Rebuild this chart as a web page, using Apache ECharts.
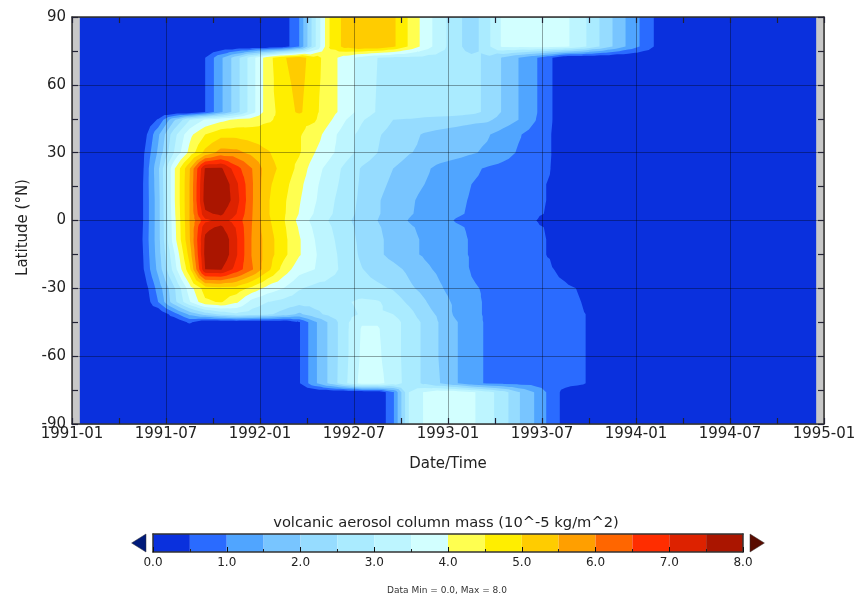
<!DOCTYPE html>
<html><head><meta charset="utf-8">
<style>html,body{margin:0;padding:0;background:#fff}#c{width:867px;height:598px}</style>
<script src="https://cdn.jsdelivr.net/npm/echarts@6/dist/echarts.min.js"></script>
</head><body><div id="c"></div>
<script>
// Months since 1991-01 (mid-month samples), index 0..47
const monthCount = 48;
const xTickLabels = ['1991-01','1991-07','1992-01','1992-07','1993-01','1993-07','1994-01','1994-07','1995-01'];
const latitudes = [90,77,72,48,44.6,38,30,23,16,9,3,0,-3,-8.4,-15,-21.6,-30,-36,-41.5,-45,-48,-60,-72,-76,-90];
const lat90  = [0,0,0,0,0,0,0,0,0,0,0,0,0,.2,1,2.9,4.6,5.2,5.45,5.45,5.1,4.45,3.8,3.2,2.7,2.2,2.85,3.6,3.65,3.7,3.7,3.6,3.2,2.6,2,1.4,.85,.3,0,0,0,0,0,0,0,0,0,0];
const lat77  = [0,0,0,0,0,0,0,0,0,0,0,0,0,.2,1,2.9,4.6,5.2,5.45,5.45,5.1,4.45,3.8,3.2,2.7,2.2,2.85,3.6,3.65,3.7,3.7,3.6,3.2,2.6,2,1.4,.85,.3,0,0,0,0,0,0,0,0,0,0];
const lat72  = [0,0,0,0,0,0,0,0,.5,1.4,2.3,3.3,4.3,4.95,5.25,4.7,4.2,3.75,3.3,3,2.9,2.9,2.85,2.8,2.75,2.65,2.4,1.95,1.5,1.1,.6,0,0,0,0,0,0,0,0,0,0,0,0,0,0,0,0,0];
const lat48  = [0,0,0,0,0,0,0,0,.5,1.4,2.3,3.3,4.3,4.7,5.1,4.6,4.2,3.75,3.3,2.95,2.9,2.9,2.85,2.8,2.75,2.65,2.4,1.95,1.5,1.1,.6,0,0,0,0,0,0,0,0,0,0,0,0,0,0,0,0,0];
const lat45  = [0,0,0,0,0,.55,1.9,2.97,3.55,3.85,4.1,4.25,4.45,4.6,4.6,4.55,4.05,3.5,3.05,2.75,2.5,2.45,2.35,2.3,2.25,2.15,2.1,1.8,1.5,1.05,.6,0,0,0,0,0,0,0,0,0,0,0,0,0,0,0,0,0];
const lat38  = [0,0,0,0,.15,1.4,2.8,3.85,4.5,4.85,4.85,4.75,4.7,4.65,4.55,4.25,3.7,3.2,2.85,2.55,2.35,2.15,1.95,1.85,1.75,1.65,1.55,1.3,1.05,.8,.55,0,0,0,0,0,0,0,0,0,0,0,0,0,0,0,0,0];
const lat30  = [0,0,0,0,.35,1.6,3,4.15,5.15,5.7,5.65,5.35,5.05,4.75,4.55,4,3.6,3.2,2.8,2.5,2.25,2.03,1.9,1.8,1.7,1.55,1.42,1.2,.95,.78,.55,0,0,0,0,0,0,0,0,0,0,0,0,0,0,0,0,0];
const lat23  = [0,0,0,0,.4,1.9,3.9,5.45,7.55,7.6,6.7,6,5.2,4.85,4.35,3.7,3.3,2.85,2.45,2.25,2,1.8,1.6,1.35,1.2,1.1,.95,.85,.75,.65,.52,.1,0,0,0,0,0,0,0,0,0,0,0,0,0,0,0,0];
const lat16  = [0,0,0,0,.45,1.85,3.9,5.5,7.7,8,7.1,6.05,5.1,4.7,4.15,3.6,3.2,2.8,2.42,2.15,1.9,1.65,1.5,1.3,1.12,1,.9,.8,.7,.6,.47,0,0,0,0,0,0,0,0,0,0,0,0,0,0,0,0,0];
const lat9   = [0,0,0,0,.45,1.8,3.9,5.5,7.75,8,7.2,6.05,5.05,4.6,4.05,3.55,3.1,2.73,2.39,2.05,1.8,1.57,1.4,1.25,1.08,.97,.85,.75,.65,.6,.47,0,0,0,0,0,0,0,0,0,0,0,0,0,0,0,0,0];
const lat3   = [0,0,0,0,.45,1.8,3.85,5.5,7.4,7.6,7,6.02,5.05,4.58,3.98,3.45,3.05,2.68,2.36,2.05,1.78,1.55,1.38,1.22,1.06,.95,.84,.73,.64,.58,.45,0,0,0,0,0,0,0,0,0,0,0,0,0,0,0,0,0];
const lat0   = [0,0,0,0,.45,1.8,3.8,5.5,6.85,7.2,6.8,6,5.1,4.55,3.85,3.3,2.95,2.6,2.3,2,1.72,1.48,1.3,1.17,.97,.88,.78,.68,.6,.53,.3,0,0,0,0,0,0,0,0,0,0,0,0,0,0,0,0,0];
const latS3  = [0,0,0,0,.47,1.8,3.78,5.48,7.35,7.6,6.95,5.98,5.15,4.6,3.95,3.4,3.03,2.66,2.34,2.06,1.8,1.56,1.4,1.25,1.06,.95,.85,.73,.64,.58,.45,0,0,0,0,0,0,0,0,0,0,0,0,0,0,0,0,0];
const latS8  = [0,0,0,0,.5,1.8,3.75,5.45,7.6,8,7.05,5.95,5.25,4.65,4.05,3.5,3.1,2.72,2.37,2.1,1.85,1.6,1.45,1.3,1.1,.97,.87,.75,.65,.6,.47,0,0,0,0,0,0,0,0,0,0,0,0,0,0,0,0,0];
const latS15 = [0,0,0,0,.45,1.75,3.4,5.2,7.65,8,7.05,5.95,5.25,4.65,4.05,3.55,3.15,2.8,2.4,2.1,1.85,1.6,1.45,1.3,1.1,.97,.87,.75,.65,.6,.47,0,0,0,0,0,0,0,0,0,0,0,0,0,0,0,0,0];
const latS22 = [0,0,0,0,.4,1.65,3.2,4.85,7.5,7.55,6.8,6.05,5.15,4.3,3.7,3.5,3.15,2.85,2.52,2.3,2.15,1.9,1.6,1.4,1.2,.97,.85,.75,.68,.6,.57,.3,0,0,0,0,0,0,0,0,0,0,0,0,0,0,0,0];
const latS30 = [0,0,0,0,.1,1.2,2.4,3.75,4.75,4.85,4.8,4.35,3.8,3.5,3.05,2.85,2.8,2.75,2.7,2.6,2.45,2.1,1.85,1.55,1.3,1.05,.95,.85,.8,.75,.7,.6,.45,0,0,0,0,0,0,0,0,0,0,0,0,0,0,0];
const latS36 = [0,0,0,0,0,1,2.3,3.45,4.4,4.55,4.1,3.3,3,2.85,2.7,2.7,2.75,2.95,3.1,3.05,2.8,2.4,2.05,1.7,1.4,1.1,.95,.9,.85,.8,.75,.65,.5,0,0,0,0,0,0,0,0,0,0,0,0,0,0,0];
const latS42 = [0,0,0,0,0,0,.75,1.6,2.2,2.6,2.9,2.75,2.6,2.3,1.9,2.35,2.65,2.85,3.05,3.05,3,2.7,2.2,1.9,1.4,1.1,.95,.9,.85,.8,.75,.7,.6,.25,0,0,0,0,0,0,0,0,0,0,0,0,0,0];
const latS45 = [0,0,0,0,0,0,0,.6,0,0,0,0,0,0,.45,1.4,2.15,2.9,3.45,3.45,3.2,2.8,2.4,1.95,1.55,1.15,.95,.9,.85,.8,.75,.7,.6,.25,0,0,0,0,0,0,0,0,0,0,0,0,0,0];
const latS48 = [0,0,0,0,0,0,0,0,0,0,0,0,0,0,.45,1.4,2.15,2.9,3.55,3.55,3.2,2.8,2.4,1.95,1.55,1.15,.95,.9,.85,.8,.75,.7,.6,.25,0,0,0,0,0,0,0,0,0,0,0,0,0,0];
const latS60 = [0,0,0,0,0,0,0,0,0,0,0,0,0,0,.45,1.4,2.15,2.9,3.6,3.6,3.2,2.8,2.4,1.95,1.55,1.15,.95,.9,.85,.8,.75,.7,.6,.25,0,0,0,0,0,0,0,0,0,0,0,0,0,0];
const latS72 = [0,0,0,0,0,0,0,0,0,0,0,0,0,0,.45,1.4,2.15,2.95,3.7,3.7,3.25,2.8,2.4,2,1.55,1.15,.95,.9,.85,.8,.75,.7,.6,.25,0,0,0,0,0,0,0,0,0,0,0,0,0,0];
const latS76 = [0,0,0,0,0,0,0,0,0,0,0,0,0,0,0,0,0,0,0,.05,.9,3,3.55,3.85,3.85,3.6,3.2,2.75,2.05,1.5,.85,.3,0,0,0,0,0,0,0,0,0,0,0,0,0,0,0,0];
const latS90 = [0,0,0,0,0,0,0,0,0,0,0,0,0,0,0,0,0,0,0,.05,.9,3,3.55,3.85,3.85,3.6,3.2,2.75,2.05,1.5,.85,.3,0,0,0,0,0,0,0,0,0,0,0,0,0,0,0,0];
const rows = [lat90,lat77,lat72,lat48,lat45,lat38,lat30,lat23,lat16,lat9,lat3,lat0,latS3,latS8,latS15,latS22,latS30,latS36,latS42,latS45,latS48,latS60,latS72,latS76,latS90];

const levels = [0,.5,1,1.5,2,2.5,3,3.5,4,4.5,5,5.5,6,6.5,7,7.5];
const bandColors = ['#0a30dd','#2a6bff','#50a5ff','#78c5ff','#96dcff','#aaebff','#bdf5ff','#d2ffff','#ffff50','#ffee00','#ffcc00','#ff9f00','#ff6600','#ff2d00','#dd2200','#aa1500'];
const barTicks = [0,1,2,3,4,5,6,7,8];
const FONT = '"DejaVu Sans"';

// clip a triangle [x,y,v] to v >= L
function clipTri(tri, L){
  const out=[];
  for(let a=0;a<3;a++){
    const p=tri[a], q=tri[(a+1)%3];
    const pin=p[2]>=L, qin=q[2]>=L;
    if(pin) out.push([p[0],p[1]]);
    if(pin!==qin){
      const t=(L-p[2])/(q[2]-p[2]);
      out.push([p[0]+t*(q[0]-p[0]),p[1]+t*(q[1]-p[1])]);
    }
  }
  return out;
}
function renderLevel(params, api){
  const k=api.value(0), L=levels[k], color=bandColors[k];
  let d='', x0b=Infinity,y0b=Infinity,x1b=-Infinity,y1b=-Infinity;
  const push=pts=>{
    if(pts.length<3) return;
    pts.forEach((p,n)=>{
      const c=api.coord(p);
      x0b=Math.min(x0b,c[0]);x1b=Math.max(x1b,c[0]);y0b=Math.min(y0b,c[1]);y1b=Math.max(y1b,c[1]);
      d+=(n?'L':'M')+c[0].toFixed(2)+' '+c[1].toFixed(2)+' ';
    });
    d+='Z ';
  };
  if(k===0){
    push([[.5,90],[monthCount-.5,90],[monthCount-.5,-90],[.5,-90]]);
  } else {
    for(let r=0;r<rows.length-1;r++){
      for(let i=0;i<monthCount-1;i++){
        const x0=i+.5,x1=i+1.5,y0=latitudes[r],y1=latitudes[r+1];
        const a=[x0,y0,rows[r][i]||0],b=[x1,y0,rows[r][i+1]||0],c=[x1,y1,rows[r+1][i+1]||0],e=[x0,y1,rows[r+1][i]||0];
        const m=[(x0+x1)/2,(y0+y1)/2,(a[2]+b[2]+c[2]+e[2])/4];
        [[a,b,m],[b,c,m],[c,e,m],[e,a,m]].forEach(t=>{
          if(Math.max(t[0][2],t[1][2],t[2][2])<L) return;
          push(clipTri(t,L));
        });
      }
    }
  }
  if(!d) return null;
  return {type:'path',shape:{pathData:d,x:x0b,y:y0b,width:x1b-x0b,height:y1b-y0b,layout:'cover'},style:{fill:color}};
}
function renderBar(params, api){
  const k=api.value(0);
  const tl=api.coord([k*.5,1]), br=api.coord([k*.5+.5,0]);
  return {type:'rect',shape:{x:tl[0],y:tl[1],width:br[0]-tl[0],height:br[1]-tl[1]},style:{fill:bandColors[k]}};
}
function renderArrow(params, api){
  const tip=api.value(0), base=api.value(1), color=api.value(2)===0?'#001a7a':'#5a0c00';
  const pts=[api.coord([tip,.5]),api.coord([base,1]),api.coord([base,0])];
  return {type:'polygon',shape:{points:pts},style:{fill:color,stroke:'#333',lineWidth:.5}};
}
const tickLine={show:true,inside:true,length:6,lineStyle:{color:'#223',width:1.2}};
const minor={show:true,splitNumber:2,length:6,lineStyle:{color:'#223',width:1.2}};
const frame={show:true,onZero:false,lineStyle:{color:'#333',width:1.5}};
const labelStyle={fontFamily:FONT,fontSize:15,color:'#222'};
const chart=echarts.init(document.getElementById('c'),null,{renderer:'canvas'});
chart.setOption({
  animation:false,
  backgroundColor:'#fff',
  title:[
    {text:'volcanic aerosol column mass (10^-5 kg/m^2)',left:441,top:511,textAlign:'center',textStyle:{fontFamily:FONT,fontSize:14.7,fontWeight:'normal',color:'#222'}},
    {text:'Data Min = 0.0, Max = 8.0',left:442,top:581,textAlign:'center',textStyle:{fontFamily:FONT,fontSize:9,fontWeight:'normal',color:'#333'}}
  ],
  grid:[
    {left:72,top:17,width:752,height:407,show:true,backgroundColor:'#c8c8c8',borderWidth:0},
    {left:153,top:534,width:590,height:18,show:false}
  ],
  xAxis:[
    {gridIndex:0,type:'value',min:0,max:48,interval:6,position:'bottom',z:5,
     axisLine:frame,axisTick:tickLine,minorTick:minor,
     splitLine:{show:true,lineStyle:{color:'rgba(0,0,0,.35)',width:1}},
     axisLabel:Object.assign({margin:3,formatter:v=>xTickLabels[v/6]},labelStyle),
     name:'Date/Time',nameLocation:'middle',nameGap:33,nameTextStyle:{fontFamily:FONT,fontSize:15,color:'#222'}},
    {gridIndex:0,type:'value',min:0,max:48,interval:6,position:'top',z:5,
     axisLine:frame,axisTick:tickLine,minorTick:minor,splitLine:{show:false},axisLabel:{show:false}},
    {gridIndex:1,type:'value',min:0,max:8,interval:1,position:'bottom',z:5,
     axisLine:frame,axisTick:{show:true,inside:true,length:5,lineStyle:{color:'#111',width:1}},
     minorTick:{show:true,splitNumber:2,length:3,lineStyle:{color:'#222',width:1}},
     splitLine:{show:false},
     axisLabel:{margin:5,fontFamily:FONT,fontSize:12,color:'#222',formatter:v=>barTicks[v].toFixed(1)}},
    {gridIndex:1,type:'value',min:0,max:8,position:'top',z:5,axisLine:frame,axisTick:{show:false},splitLine:{show:false},axisLabel:{show:false}}
  ],
  yAxis:[
    {gridIndex:0,type:'value',min:-90,max:90,interval:30,position:'left',z:5,
     axisLine:frame,axisTick:tickLine,minorTick:minor,
     splitLine:{show:true,lineStyle:{color:'rgba(0,0,0,.35)',width:1}},
     axisLabel:Object.assign({margin:6},labelStyle),
     name:'Latitude (°N)',nameLocation:'middle',nameGap:37,nameTextStyle:{fontFamily:FONT,fontSize:15,color:'#222',padding:[0,14,0,0]}},
    {gridIndex:0,type:'value',min:-90,max:90,interval:30,position:'right',z:5,
     axisLine:frame,axisTick:tickLine,minorTick:minor,splitLine:{show:false},axisLabel:{show:false}},
    {gridIndex:1,type:'value',min:0,max:1,position:'left',z:5,axisLine:frame,axisTick:{show:false},splitLine:{show:false},axisLabel:{show:false}},
    {gridIndex:1,type:'value',min:0,max:1,position:'right',z:5,axisLine:frame,axisTick:{show:false},splitLine:{show:false},axisLabel:{show:false}}
  ],
  series:[
    {type:'custom',xAxisIndex:0,yAxisIndex:0,z:1,clip:true,silent:true,renderItem:renderLevel,
     data:levels.map((l,k)=>[k,0]),encode:{x:0,y:1},progressive:0},
    {type:'custom',xAxisIndex:2,yAxisIndex:2,z:1,silent:true,renderItem:renderBar,
     data:levels.map((l,k)=>[k,0]),encode:{x:0,y:1}},
    {type:'custom',xAxisIndex:2,yAxisIndex:2,z:1,silent:true,clip:false,renderItem:renderArrow,
     data:[[-.29,-.095,0],[8.29,8.095,1]],encode:{x:0}}
  ]
});
</script></body></html>
